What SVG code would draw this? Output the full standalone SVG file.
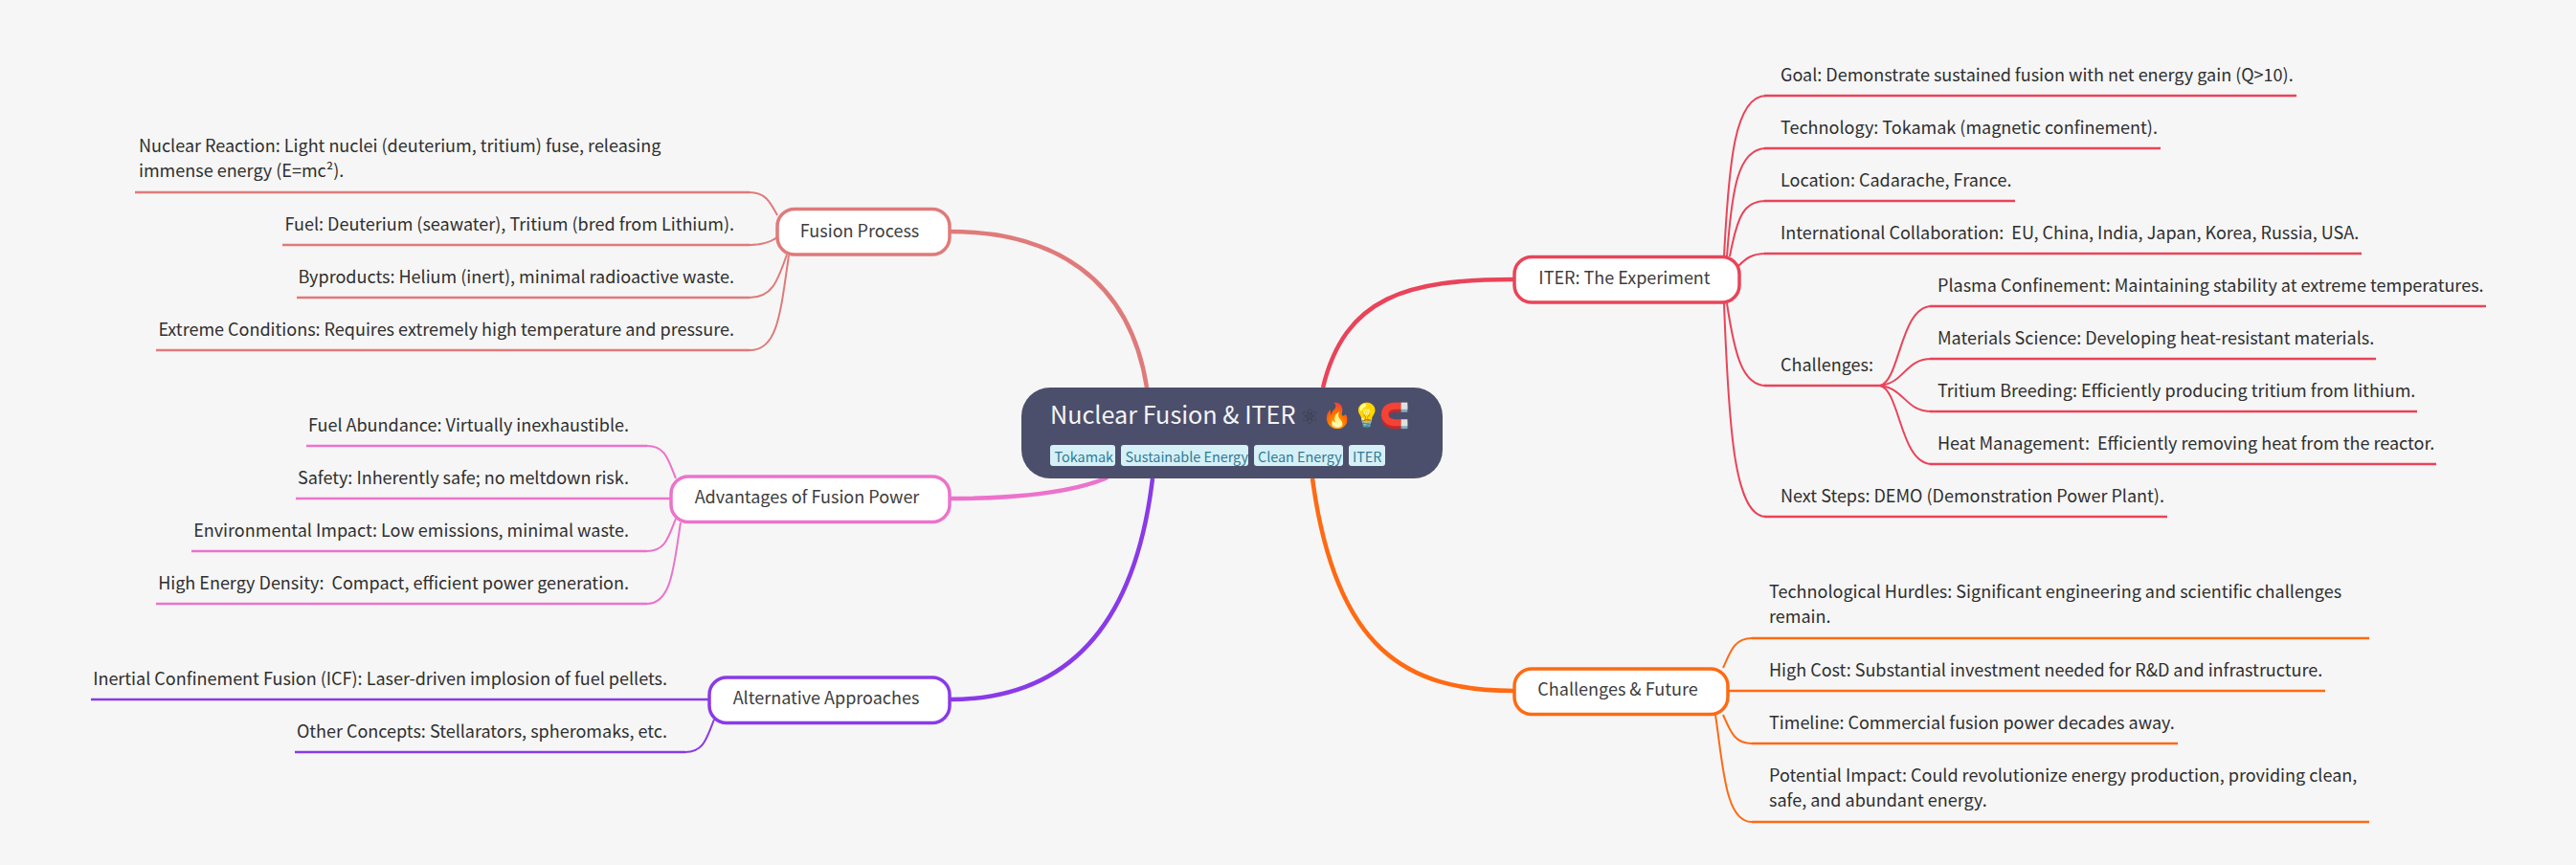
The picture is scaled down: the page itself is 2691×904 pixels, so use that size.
<svg xmlns="http://www.w3.org/2000/svg" width="2691" height="904" viewBox="0 0 2691 904">
<style>
text{font-family:"Noto Sans CJK SC","Noto Sans",sans-serif;font-size:18px;fill:#2f2f2f}
.r{text-anchor:end}
.n{text-anchor:middle;fill:#3d3d3d}
.box{fill:#fff;stroke-width:3.5}
.main{fill:none;stroke-width:4.5}
.sub{fill:none;stroke-width:2}
.ul{fill:none;stroke-width:2.4}
.tag{fill:#d6f0f7}
.tt{font-size:14.4px;fill:#2f7b96}
.em{font-size:25.2px;font-family:"Noto Color Emoji",sans-serif}
.fp{stroke:#e07a7a}.ad{stroke:#ec73cb}.al{stroke:#8a3ae8}.it{stroke:#e9445a}.cf{stroke:#ff6a13}
</style>
<rect width="2691" height="904" fill="#f6f6f6"/>
<g id="connectors">
<path class="main fp" d="M992 242C1100 242 1180 290 1198 405"/>
<path class="main ad" d="M992 521C1060 521 1120 515 1157 499"/>
<path class="main al" d="M992 731C1110 731 1185 660 1204 500"/>
<path class="main it" d="M1582 292C1470 292 1405 310 1382 405"/>
<path class="main cf" d="M1582 722C1470 722 1395 680 1371 500"/>
<g class="fp">
<path class="sub" d="M812 225C805 212 800 201 783 201"/><path class="ul" d="M141 201H783"/>
<path class="sub" d="M812 248C805 253 796 256 783 256"/><path class="ul" d="M295 256H783"/>
<path class="sub" d="M822 266C812 295 806 311 783 311"/><path class="ul" d="M310 311H783"/>
<path class="sub" d="M824 267C815 330 812 366 783 366"/><path class="ul" d="M163 366H783"/>
</g>
<g class="ad">
<path class="sub" d="M706 500C698 480 695 466 676 466"/><path class="ul" d="M320 466H676"/>
<path class="ul" d="M309 521H701"/>
<path class="sub" d="M706 542C698 562 695 576 676 576"/><path class="ul" d="M200 576H676"/>
<path class="sub" d="M711 546C704 590 702 631 676 631"/><path class="ul" d="M163 631H676"/>
</g>
<g class="al">
<path class="ul" d="M95 731H741"/>
<path class="sub" d="M746 752C738 772 735 786 716 786"/><path class="ul" d="M308 786H716"/>
</g>
<g class="it">
<path class="sub" d="M1801 268C1806 170 1812 100 1845 100"/><path class="ul" d="M1843 100H2399"/>
<path class="sub" d="M1804 268C1809 200 1815 155 1845 155"/><path class="ul" d="M1843 155H2257"/>
<path class="sub" d="M1807 268C1815 225 1822 210 1845 210"/><path class="ul" d="M1843 210H2105"/>
<path class="sub" d="M1816 278C1824 270 1830 265 1845 265"/><path class="ul" d="M1843 265H2467"/>
<path class="sub" d="M1804 317C1812 370 1820 403 1845 403"/><path class="ul" d="M1843 403H1966"/>
<path class="sub" d="M1801 317C1806 450 1812 540 1845 540"/><path class="ul" d="M1843 540H2264"/>
<path class="sub" d="M1964 403C1985 398 1985 320 2018 320"/><path class="ul" d="M2016 320H2597"/>
<path class="sub" d="M1964 403C1990 400 1990 375 2018 375"/><path class="ul" d="M2016 375H2482"/>
<path class="sub" d="M1964 403C1990 406 1990 430 2018 430"/><path class="ul" d="M2016 430H2525"/>
<path class="sub" d="M1964 403C1985 408 1985 485 2018 485"/><path class="ul" d="M2016 485H2545"/>
</g>
<g class="cf">
<path class="sub" d="M1800 698C1808 680 1812 667 1830 667"/><path class="ul" d="M1830 667H2475"/>
<path class="ul" d="M1805 722H2429"/>
<path class="sub" d="M1800 747C1808 765 1812 777 1830 777"/><path class="ul" d="M1830 777H2275"/>
<path class="sub" d="M1792 747C1800 800 1802 859 1830 859"/><path class="ul" d="M1830 859H2475"/>
</g>
</g>
<g id="root">
<rect x="1067" y="405" width="440" height="95" rx="30" fill="#4c4f6b"/>
<text x="1097" y="443" style="font-size:25.2px;fill:#f4f4f8">Nuclear Fusion &amp; ITER</text>
<text x="1358" y="443" style="font-size:22px;fill:#3a3c50;font-family:'DejaVu Sans',sans-serif">⚛</text>
<text class="em" x="1381" y="443">🔥</text>
<text class="em" x="1412" y="443">💡</text>
<text class="em" x="1441" y="443">🧲</text>
<rect class="tag" x="1097" y="465" width="68" height="22" rx="3"/><text class="tt" x="1101.5" y="482.5">Tokamak</text>
<rect class="tag" x="1171" y="465" width="133" height="22" rx="3"/><text class="tt" x="1175.5" y="482.5">Sustainable Energy</text>
<rect class="tag" x="1310" y="465" width="93" height="22" rx="3"/><text class="tt" x="1314" y="482.5">Clean Energy</text>
<rect class="tag" x="1409" y="465" width="38" height="22" rx="3"/><text class="tt" x="1413" y="482.5">ITER</text>
</g>
<g id="fusion-process">
<rect class="box fp" x="812" y="218.5" width="180" height="47.5" rx="18"/><text class="n" x="898" y="248">Fusion Process</text>
<g id="fp-leaves">
<text x="145" y="159">Nuclear Reaction: Light nuclei (deuterium, tritium) fuse, releasing</text>
<text x="145" y="185">immense energy (E=mc²).</text>
<text class="r" x="767" y="241">Fuel: Deuterium (seawater), Tritium (bred from Lithium).</text>
<text class="r" x="767" y="296">Byproducts: Helium (inert), minimal radioactive waste.</text>
<text class="r" x="767" y="351">Extreme Conditions: Requires extremely high temperature and pressure.</text>
</g></g>
<g id="advantages">
<rect class="box ad" x="701" y="498" width="291" height="47.5" rx="18"/><text class="n" x="843" y="526">Advantages of Fusion Power</text>
<g id="ad-leaves">
<text class="r" x="657" y="451">Fuel Abundance: Virtually inexhaustible.</text>
<text class="r" x="657" y="506">Safety: Inherently safe; no meltdown risk.</text>
<text class="r" x="657" y="561">Environmental Impact: Low emissions, minimal waste.</text>
<text class="r" x="657" y="616" xml:space="preserve">High Energy Density:  Compact, efficient power generation.</text>
</g></g>
<g id="alternative">
<rect class="box al" x="741" y="708" width="251" height="47.5" rx="18"/><text class="n" x="863" y="736">Alternative Approaches</text>
<g id="al-leaves">
<text class="r" x="697" y="716">Inertial Confinement Fusion (ICF): Laser-driven implosion of fuel pellets.</text>
<text class="r" x="697" y="771">Other Concepts: Stellarators, spheromaks, etc.</text>
</g></g>
<g id="iter">
<rect class="box it" x="1582" y="268.5" width="235" height="47.5" rx="18"/><text class="n" x="1697" y="297">ITER: The Experiment</text>
<g id="it-leaves">
<text x="1860" y="85">Goal: Demonstrate sustained fusion with net energy gain (Q&gt;10).</text>
<text x="1860" y="140">Technology: Tokamak (magnetic confinement).</text>
<text x="1860" y="195">Location: Cadarache, France.</text>
<text x="1860" y="250" xml:space="preserve">International Collaboration:  EU, China, India, Japan, Korea, Russia, USA.</text>
<text x="1860" y="388">Challenges:</text>
<text x="1860" y="525">Next Steps: DEMO (Demonstration Power Plant).</text>
<text x="2024" y="305">Plasma Confinement: Maintaining stability at extreme temperatures.</text>
<text x="2024" y="360">Materials Science: Developing heat-resistant materials.</text>
<text x="2024" y="415">Tritium Breeding: Efficiently producing tritium from lithium.</text>
<text x="2024" y="470" xml:space="preserve">Heat Management:  Efficiently removing heat from the reactor.</text>
</g></g>
<g id="challenges">
<rect class="box cf" x="1582" y="699" width="223" height="47.5" rx="18"/><text class="n" x="1690" y="727">Challenges &amp; Future</text>
<g id="cf-leaves">
<text x="1848" y="625">Technological Hurdles: Significant engineering and scientific challenges</text>
<text x="1848" y="651">remain.</text>
<text x="1848" y="707">High Cost: Substantial investment needed for R&amp;D and infrastructure.</text>
<text x="1848" y="762">Timeline: Commercial fusion power decades away.</text>
<text x="1848" y="817">Potential Impact: Could revolutionize energy production, providing clean,</text>
<text x="1848" y="843">safe, and abundant energy.</text>
</g></g>
</svg>
